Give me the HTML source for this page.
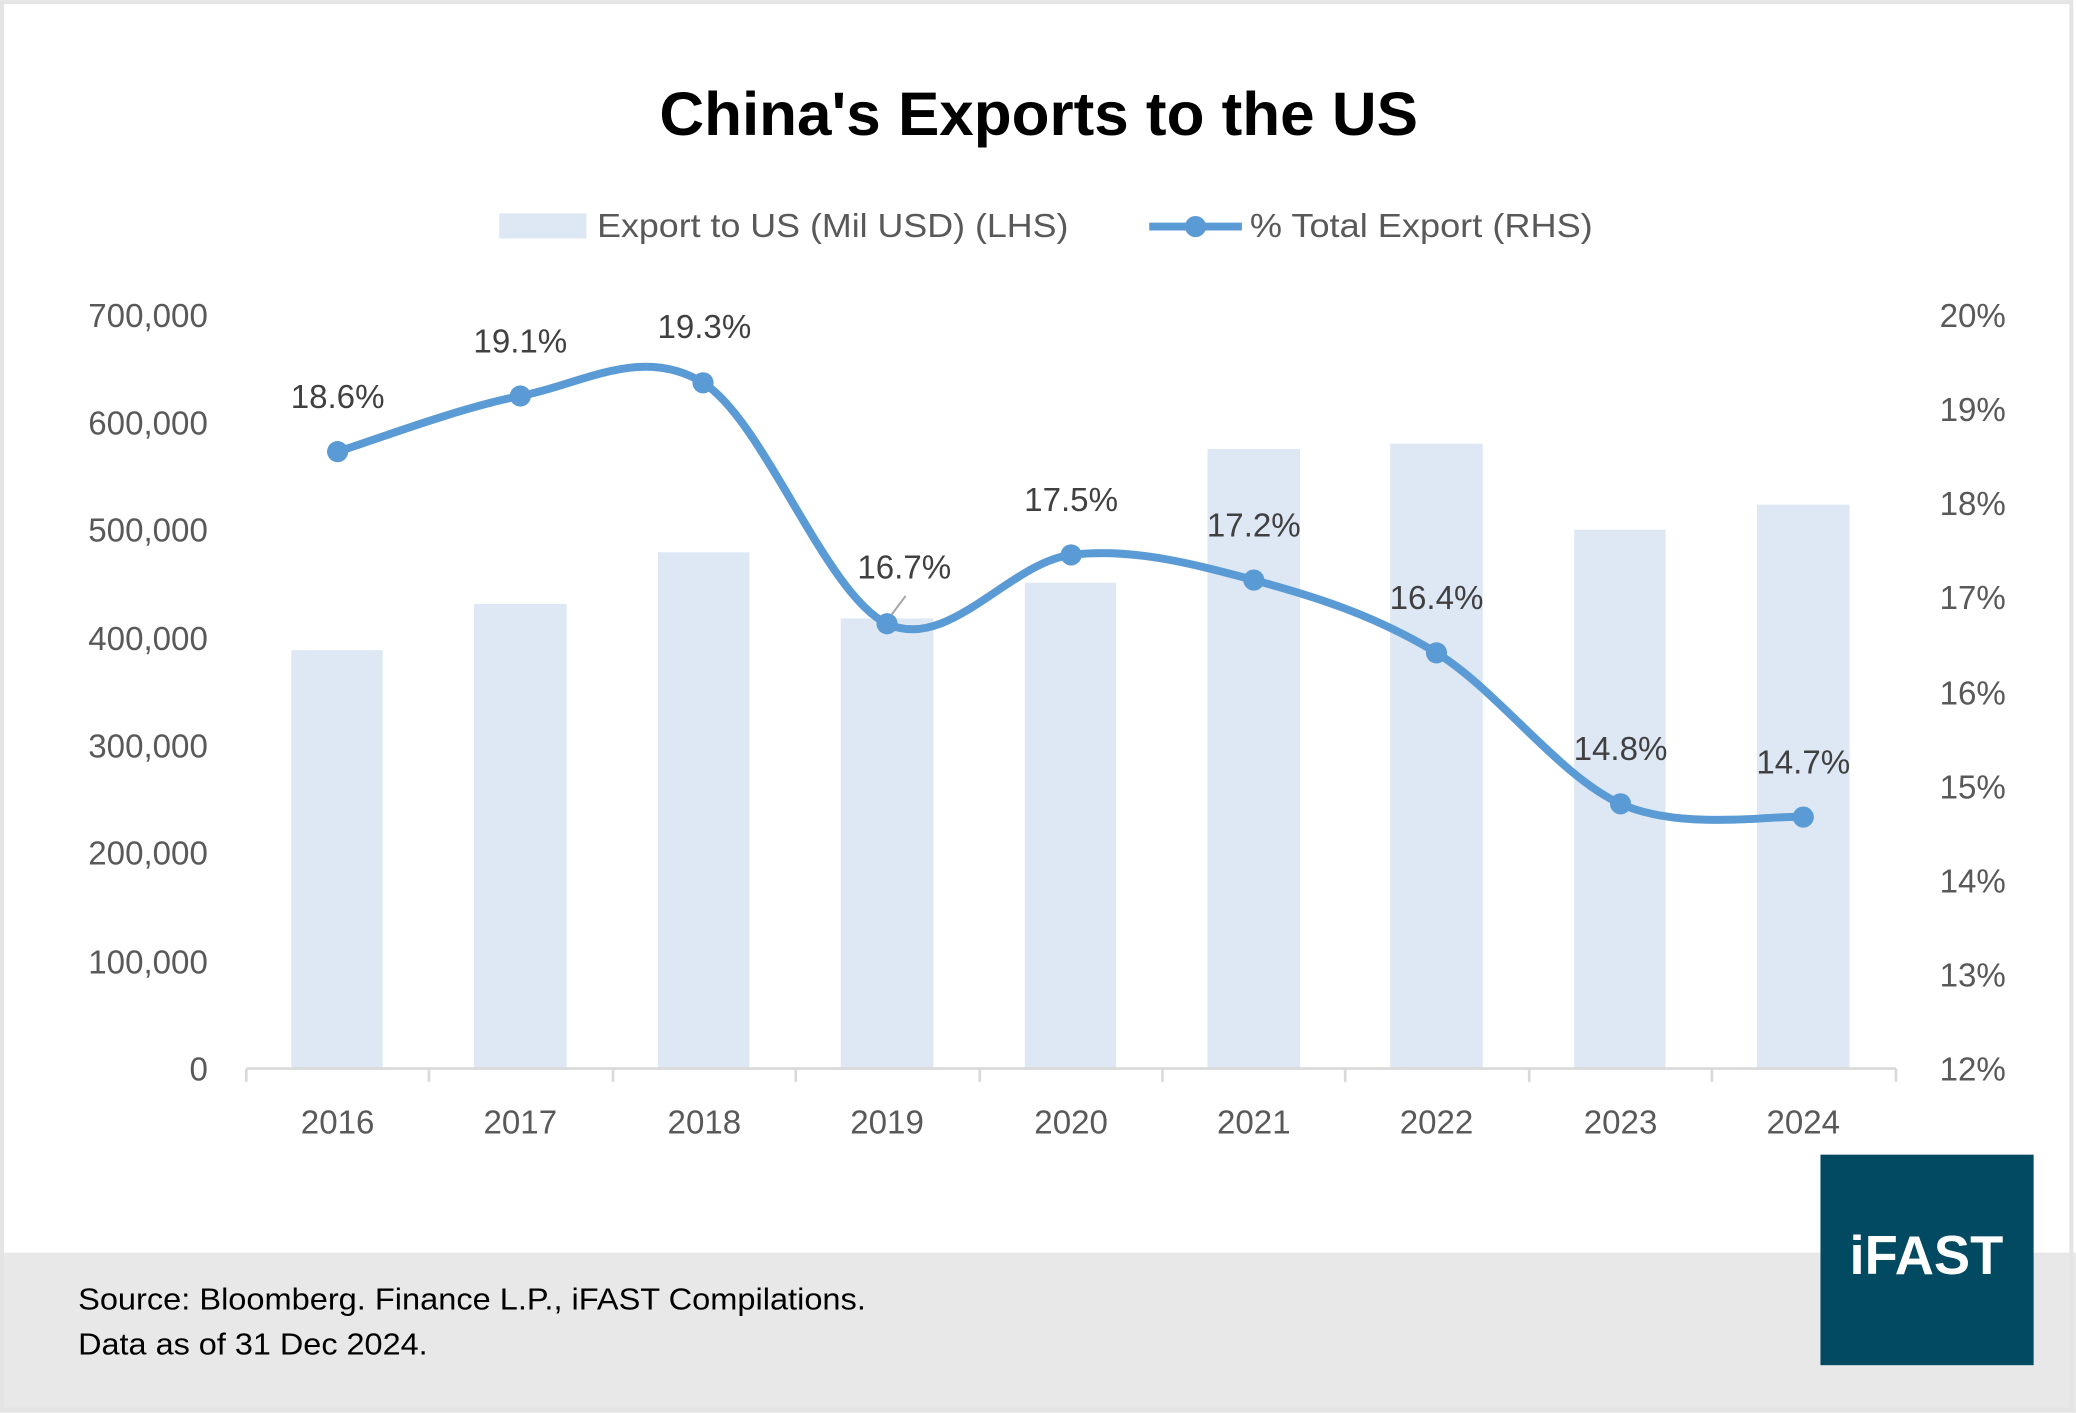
<!DOCTYPE html>
<html><head><meta charset="utf-8"><style>
html,body{margin:0;padding:0;background:#fff;}
svg{display:block;}
text{font-family:"Liberation Sans",sans-serif;}
</style></head><body>
<svg width="2076" height="1413" viewBox="0 0 1568 1067" xmlns="http://www.w3.org/2000/svg">
<rect x="0" y="0" width="1568" height="1067" fill="#fff"/>
<rect x="0" y="946" width="1568" height="121" fill="#e8e8e8"/>
<rect x="1.5" y="1.5" width="1563" height="1063" fill="none" stroke="#e4e4e4" stroke-width="3"/>
<text x="498" y="102" font-size="46" font-weight="bold" fill="#000" textLength="573" lengthAdjust="spacingAndGlyphs">China's Exports to the US</text>
<rect x="377" y="161" width="66" height="19" fill="#dde8f4"/>
<text x="451" y="179" font-size="25" fill="#595959" textLength="356" lengthAdjust="spacingAndGlyphs">Export to US (Mil USD) (LHS)</text>
<line x1="868" y1="171" x2="938" y2="171" stroke="#5b9bd5" stroke-width="6"/>
<circle cx="903" cy="171" r="8" fill="#5b9bd5"/>
<text x="944" y="179" font-size="25" fill="#595959" textLength="259" lengthAdjust="spacingAndGlyphs">% Total Export (RHS)</text>
<g fill="#dde8f4">
<rect x="220" y="491" width="69" height="316"/>
<rect x="358" y="456" width="70" height="351"/>
<rect x="497" y="417" width="69" height="390"/>
<rect x="635" y="467" width="70" height="340"/>
<rect x="774" y="440" width="69" height="367"/>
<rect x="912" y="339" width="70" height="468"/>
<rect x="1050" y="335" width="70" height="472"/>
<rect x="1189" y="400" width="69" height="407"/>
<rect x="1327" y="381" width="70" height="426"/>
</g>
<g stroke="#d9d9d9" stroke-width="2">
<line x1="186" y1="807" x2="1432" y2="807"/>
<line x1="186" y1="807" x2="186" y2="817"/><line x1="324" y1="807" x2="324" y2="817"/><line x1="463" y1="807" x2="463" y2="817"/><line x1="601" y1="807" x2="601" y2="817"/><line x1="740" y1="807" x2="740" y2="817"/><line x1="878" y1="807" x2="878" y2="817"/><line x1="1016" y1="807" x2="1016" y2="817"/><line x1="1155" y1="807" x2="1155" y2="817"/><line x1="1293" y1="807" x2="1293" y2="817"/><line x1="1432" y1="807" x2="1432" y2="817"/>
</g>
<g font-size="25" fill="#595959" text-anchor="end">
<text x="157" y="247">700,000</text><text x="157" y="328">600,000</text><text x="157" y="409">500,000</text><text x="157" y="491">400,000</text><text x="157" y="572">300,000</text><text x="157" y="653">200,000</text><text x="157" y="735">100,000</text><text x="157" y="816">0</text>
</g>
<g font-size="25" fill="#595959" text-anchor="end">
<text x="1515" y="247">20%</text><text x="1515" y="318">19%</text><text x="1515" y="389">18%</text><text x="1515" y="460">17%</text><text x="1515" y="532">16%</text><text x="1515" y="603">15%</text><text x="1515" y="674">14%</text><text x="1515" y="745">13%</text><text x="1515" y="816">12%</text>
</g>
<g font-size="25" fill="#595959" text-anchor="middle">
<text x="255" y="856">2016</text><text x="393" y="856">2017</text><text x="532" y="856">2018</text><text x="670" y="856">2019</text><text x="809" y="856">2020</text><text x="947" y="856">2021</text><text x="1085" y="856">2022</text><text x="1224" y="856">2023</text><text x="1362" y="856">2024</text>
</g>
<line x1="672" y1="466" x2="684" y2="450" stroke="#a6a6a6" stroke-width="1.5"/>
<path d="M255,341 C278,334 347,307.7 393,299 C439,290.3 484.8,260.3 531,289 C577.2,317.7 623.7,449.3 670,471 C716.3,492.7 762.8,424.5 809,419 C855.2,413.5 901,425.7 947,438 C993,450.3 1038.8,464.8 1085,493 C1131.2,521.2 1177.8,586.3 1224,607 C1270.2,627.7 1339,615.3 1362,617" fill="none" stroke="#5b9bd5" stroke-width="6" stroke-linecap="round"/>
<g fill="#5b9bd5">
<circle cx="255" cy="341" r="8"/><circle cx="393" cy="299" r="8"/><circle cx="531" cy="289" r="8"/><circle cx="670" cy="471" r="8"/><circle cx="809" cy="419" r="8"/><circle cx="947" cy="438" r="8"/><circle cx="1085" cy="493" r="8"/><circle cx="1224" cy="607" r="8"/><circle cx="1362" cy="617" r="8"/>
</g>
<g font-size="25" fill="#404040" text-anchor="middle">
<text x="255" y="308">18.6%</text><text x="393" y="266">19.1%</text><text x="532" y="255">19.3%</text><text x="683" y="437">16.7%</text><text x="809" y="386">17.5%</text><text x="947" y="405">17.2%</text><text x="1085" y="460">16.4%</text><text x="1224" y="574">14.8%</text><text x="1362" y="584">14.7%</text>
</g>
<text x="59" y="989" font-size="23" fill="#000" textLength="595" lengthAdjust="spacingAndGlyphs">Source: Bloomberg. Finance L.P., iFAST Compilations.</text>
<text x="59" y="1023" font-size="23" fill="#000" textLength="264" lengthAdjust="spacingAndGlyphs">Data as of 31 Dec 2024.</text>
<rect x="1375" y="872" width="161" height="159" fill="#014a62"/>
<text x="1455" y="962" text-anchor="middle" font-size="41" font-weight="bold" fill="#fff">iFAST</text>
</svg>
</body></html>
